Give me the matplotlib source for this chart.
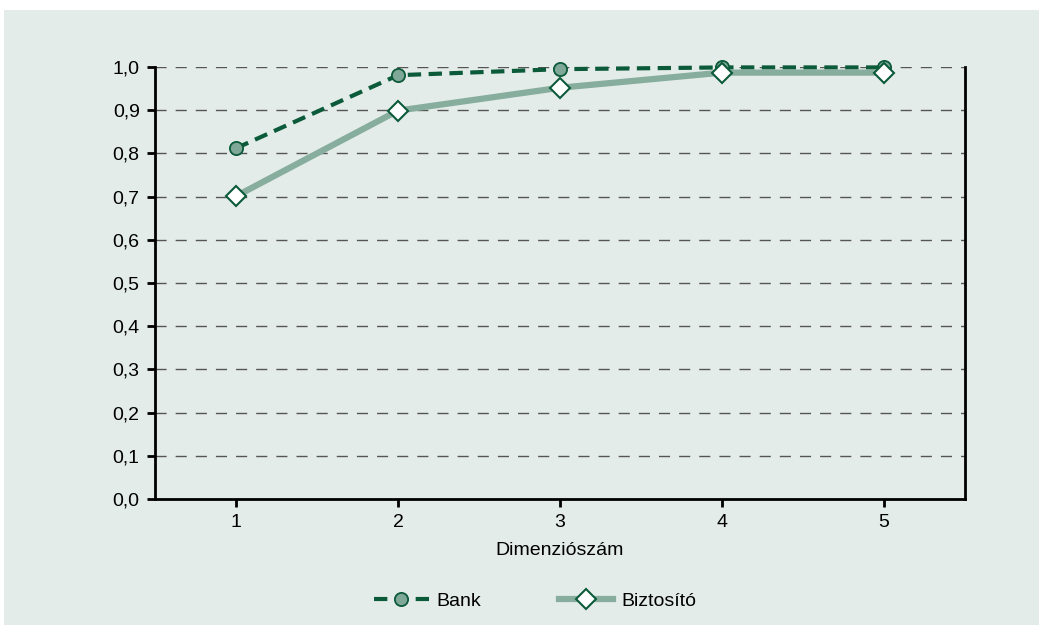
import matplotlib
matplotlib.use("Agg")
import matplotlib.pyplot as plt
from matplotlib.patches import Rectangle

dims = [1, 2, 3, 4, 5]
bank = [0.812, 0.981, 0.995, 0.999, 0.999]
biztosito = [0.701, 0.899, 0.952, 0.987, 0.987]
yticks = [0.0, 0.1, 0.2, 0.3, 0.4, 0.5, 0.6, 0.7, 0.8, 0.9, 1.0]
ytick_labels = ["0,0", "0,1", "0,2", "0,3", "0,4", "0,5", "0,6", "0,7", "0,8", "0,9", "1,0"]

plt.rcParams['font.family'] = ['Liberation Sans', 'DejaVu Sans']
bg = '#e4ece9'
dark = '#0b5a3a'
light = '#86ad9d'
fs = 14

fig = plt.figure(figsize=(10.39, 6.25), dpi=100)
fig.patch.set_facecolor('white')
fig.patches.append(Rectangle((4/1039, 0), 1 - 4/1039, 1 - 10/625,
                             transform=fig.transFigure, facecolor=bg,
                             edgecolor='none', zorder=-10))
ax = fig.add_axes([155/1039, 1 - 499/625, 810/1039, 432/625])
ax.set_facecolor(bg)

ax.plot(dims, biztosito, color=light, lw=4.5, marker='D', markersize=10,
        markerfacecolor='white', markeredgecolor=dark, markeredgewidth=1.5,
        label='Biztosító', clip_on=False, zorder=3)
ax.plot(dims, bank, color=dark, lw=3, ls=(0, (3.2, 1.8)), marker='o', markersize=9.5,
        markerfacecolor='#7fa898', markeredgecolor=dark, markeredgewidth=1.3,
        label='Bank', clip_on=False, zorder=2)

ax.set_xlim(0.5, 5.5)
ax.set_ylim(0, 1.0)
ax.set_xticks(dims)
ax.set_yticks(yticks)
ax.set_yticklabels(ytick_labels)
ax.tick_params(axis='both', labelsize=fs, width=2, length=6, direction='out',
               colors='black', pad=5)
ax.yaxis.grid(True, color='#555555', ls=(0, (8, 6.5)), lw=1)
ax.set_axisbelow(True)
for s in ['left', 'bottom', 'right']:
    ax.spines[s].set_linewidth(2)
ax.spines['top'].set_visible(False)
ax.set_xlabel('Dimenziószám', fontsize=fs, labelpad=8)

handles, labels = ax.get_legend_handles_labels()
leg = fig.legend([handles[1], handles[0]], [labels[1], labels[0]], loc='center',
                 bbox_to_anchor=(0.515, 1 - 601/625), ncol=2, frameon=False,
                 fontsize=fs, handlelength=2.8, columnspacing=4.0, handletextpad=0.4)

fig.savefig('out.png', dpi=100, facecolor=fig.get_facecolor())
